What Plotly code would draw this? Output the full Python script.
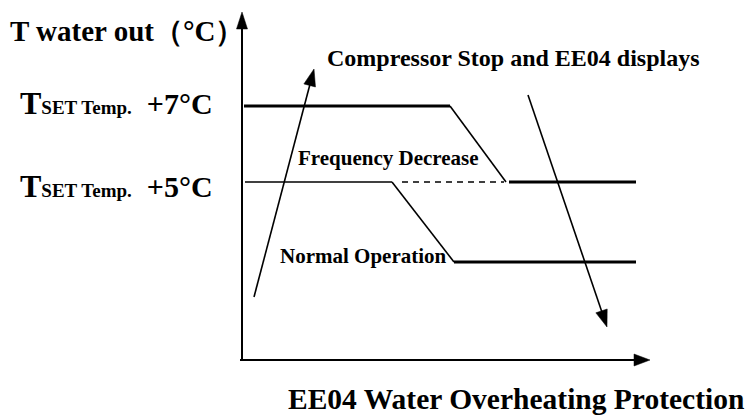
import math
import plotly.graph_objects as go

W, H = 751, 418
FONT = "Liberation Serif"

# Diagram frame (screen-like units, y grows downward)
axis_origin = (242, 360)
y_axis_tip = (242, 12)
x_axis_start = (240, 360)
x_axis_tip = (650, 360)

# Temperature levels drawn on the diagram
level_y = {"+7": 106, "+5": 182, "normal": 262}

# Upper curve: held at +7°C, then falls to the +5°C level
stop_x = [244, 450, 506]
stop_y = [level_y["+7"], level_y["+7"], level_y["+5"]]

# Frequency-decrease plateau after the fall (thick)
freq_x = [509, 636]
freq_y = [level_y["+5"], level_y["+5"]]

# Lower curve: held at +5°C, then falls to normal operation
low_x = [245, 392, 454]
low_y = [level_y["+5"], level_y["+5"], level_y["normal"]]

# Dashed continuation of the +5°C level
dash_x = [402, 504]
dash_y = [level_y["+5"], level_y["+5"]]

# Normal operation plateau (thick)
normal_x = [454, 636]
normal_y = [level_y["normal"], level_y["normal"]]

# Rising and falling temperature arrows (tail -> tip)
rise_arrow = [(254, 297), (314, 69)]
fall_arrow = [(528, 95), (607, 327)]

fig = go.Figure()


def add_line(xs, ys, width, dash="solid"):
    fig.add_trace(go.Scatter(x=xs, y=ys, mode="lines",
                             line=dict(color="black", width=width, dash=dash),
                             hoverinfo="skip", showlegend=False))


add_line(stop_x[:2], stop_y[:2], 3.2)
add_line(stop_x[1:], stop_y[1:], 1.6)
add_line(freq_x, freq_y, 3.2)
add_line(low_x[:2], low_y[:2], 1.6)
add_line(low_x[1:], low_y[1:], 1.6)
add_line(dash_x, dash_y, 1.6, dash="6px,5px")
add_line(normal_x, normal_y, 3.2)


def add_arrow(tail, tip, width=1.6, head_len=17, head_half=6):
    """Shaft plus a filled triangular head pointing at `tip`."""
    dx, dy = tip[0] - tail[0], tip[1] - tail[1]
    length = math.hypot(dx, dy)
    ux, uy = dx / length, dy / length
    bx, by = tip[0] - ux * head_len, tip[1] - uy * head_len
    px, py = -uy, ux
    add_line([tail[0], bx + ux * 2], [tail[1], by + uy * 2], width)
    fig.add_trace(go.Scatter(
        x=[tip[0], bx + px * head_half, bx - px * head_half, tip[0]],
        y=[tip[1], by + py * head_half, by - py * head_half, tip[1]],
        mode="lines", fill="toself", fillcolor="black",
        line=dict(color="black", width=0.5),
        hoverinfo="skip", showlegend=False))


add_arrow(axis_origin, y_axis_tip, width=2, head_len=17, head_half=5.5)
add_arrow(x_axis_start, x_axis_tip, width=2, head_len=16, head_half=6)
add_arrow(*rise_arrow)
add_arrow(*fall_arrow)


def add_text(x, y, text, size, anchor="center"):
    fig.add_annotation(x=x, y=y, xref="x", yref="y", text=text,
                       showarrow=False, xanchor=anchor, yanchor="middle",
                       font=dict(family=FONT, size=size, color="black"))


SUB = "<span style='font-size:19px'>SET Temp.</span>"
add_text(8, 31, "<b>T water out（°C）</b>", 29, "left")
add_text(215, 103, f"<b><span style='font-size:32px'>T</span>{SUB}&nbsp; +7°C</b>", 30, "right")
add_text(215, 186, f"<b><span style='font-size:32px'>T</span>{SUB}&nbsp; +5°C</b>", 30, "right")
add_text(513, 58, "<b>Compressor Stop and EE04 displays</b>", 24)
add_text(388, 158, "<b>Frequency Decrease</b>", 21)
add_text(363, 256, "<b>Normal Operation</b>", 21)
add_text(516, 399, "<b>EE04 Water Overheating Protection</b>", 29.5)

fig.update_layout(
    width=W, height=H,
    margin=dict(l=0, r=0, t=0, b=0),
    paper_bgcolor="white", plot_bgcolor="white",
    xaxis=dict(range=[0, W], visible=False, fixedrange=True),
    yaxis=dict(range=[H, 0], visible=False, fixedrange=True),
)

fig.write_html("out.html")
